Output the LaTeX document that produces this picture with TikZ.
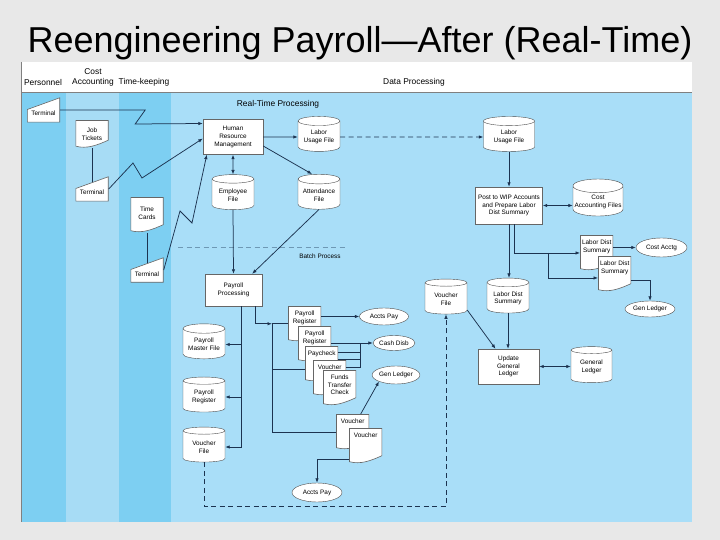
\documentclass[tikz,border=0pt]{standalone}
\usepackage{fontspec}
\setmainfont{Liberation Sans}
\usetikzlibrary{shapes.geometric,arrows.meta,positioning}
\definecolor{panelgray}{HTML}{E8E8E8}
\definecolor{lanedark}{HTML}{7DCFF2}
\definecolor{lanepale}{HTML}{A7DCF5}
\definecolor{lanedata}{HTML}{A9DEF8}
\definecolor{flowcol}{HTML}{1C3350}
\definecolor{sepcol}{HTML}{6E98B4}
\tikzset{
	lanehead/.style={font=\fontsize{8.4}{9.6}\selectfont, align=center, inner sep=0pt},
	procbox/.style={rectangle, draw=black!60, fill=white, align=center,
		font=\fontsize{6.4}{7.6}\selectfont, inner sep=1pt},
	diskbox/.style={cylinder, shape border rotate=90, aspect=0.28, draw=black!70, fill=white,
		align=center, font=\fontsize{6.4}{7.6}\selectfont, inner sep=1pt,
		minimum width=42pt, minimum height=35pt},
	docbox/.style={rectangle, align=center, font=\fontsize{6.4}{7.6}\selectfont,
		inner xsep=1.5pt, inner ysep=1.5pt, minimum width=33pt,
		text height=8pt, text depth=24.5pt, anchor=north west,
		path picture={\draw[draw=black!60, fill=white, line width=0.6pt]
			([shift={(0.3pt,-0.3pt)}]path picture bounding box.north west)
			-- ([shift={(-0.3pt,-0.3pt)}]path picture bounding box.north east)
			-- ([shift={(-0.3pt,8pt)}]path picture bounding box.south east)
			.. controls +(-11pt,-5pt) and +(11pt,-3pt) .. ([shift={(0.3pt,2pt)}]path picture bounding box.south west)
			-- cycle;}},
	docbox2/.style={docbox, text height=15.6pt, text depth=16.9pt},
	docbox3/.style={docbox, text height=23.2pt, text depth=9.3pt},
	termbox/.style={rectangle, font=\fontsize{6.4}{7.6}\selectfont, inner sep=1pt,
		minimum width=33pt, minimum height=25pt, text height=12pt, text depth=0pt,
		path picture={\draw[draw=black!60, fill=white, line width=0.6pt]
			([shift={(0.3pt,0.3pt)}]path picture bounding box.south west)
			-- ([shift={(-0.3pt,0.3pt)}]path picture bounding box.south east)
			-- ([shift={(-0.3pt,-0.3pt)}]path picture bounding box.north east)
			-- ([shift={(0.3pt,-12pt)}]path picture bounding box.north west) -- cycle;}},
	ovalbox/.style={ellipse, draw=black!70, fill=white, font=\fontsize{6.4}{7.6}\selectfont,
		inner sep=0pt, minimum width=48pt, minimum height=17pt},
	plainline/.style={draw=flowcol, line width=0.75pt},
	flowarr/.style={plainline, -{Latex[length=4.5pt,width=3.5pt]}},
	dualarr/.style={plainline, {Latex[length=4.5pt,width=3.5pt]}-{Latex[length=4.5pt,width=3.5pt]}}
}
\begin{document}
\begin{tikzpicture}[x=1pt,y=-1pt]
	\useasboundingbox (0,0) rectangle (720,540);
	\fill[panelgray] (0,0) rectangle (720,540);
	% lanes
	\fill[white] (21,62) rectangle (692,92);
	\fill[lanedark] (21,92) rectangle (66,522);
	\fill[lanepale] (66,92) rectangle (119,522);
	\fill[lanedark] (119,92) rectangle (171,522);
	\fill[lanedata] (171,92) rectangle (692,522);
	\draw[black!50, line width=0.6pt] (21,92) -- (692,92);
	\draw[black!50, line width=0.6pt] (21,62) -- (21,522);
	\node[font=\fontsize{36}{40}\selectfont, anchor=base] (title) at (360,53) {Reengineering Payroll\textemdash After (Real-Time)};
	\node[lanehead] (hPers) at (43,82) {Personnel};
	\node[lanehead] (hCost) at (93,77.5) {Cost\\Accounting};
	\node[lanehead] (hTime) at (144,82) {Time-keeping};
	\node[lanehead] (hData) at (414,82) {Data Processing};
	\node[lanehead] (hReal) at (278,104) {Real-Time Processing};
	% batch split
	\draw[sepcol, line width=0.8pt, dash pattern=on 5pt off 3.5pt] (178,247) -- (346,247);
	\node[font=\fontsize{6.4}{7.6}\selectfont] (batch) at (320,256) {Batch Process};

	% inputs
	\node[termbox] (termPers) at (43.5,110) {Terminal};
	\node[docbox2, anchor=north, text height=18.6pt, text depth=6.4pt] (jobTix) at (92,120) {Job\\Tickets};
	\node[termbox] (termCost) at (92,189) {Terminal};
	\node[docbox2, anchor=north, text height=20.6pt, text depth=11.9pt] (timeCards) at (147,197) {Time\\Cards};
	\node[termbox] (termTime) at (147,270) {Terminal};

	% real-time processing
	\node[procbox, minimum width=60pt, minimum height=35pt] (hrm) at (233,137) {Human\\Resource\\Management};
	\node[diskbox] (laborUse) at (319,137) {Labor\\Usage File};
	\node[diskbox] (attend) at (319,195) {Attendance\\File};
	\node[diskbox] (employee) at (233,195) {Employee\\File};
	\node[procbox, minimum width=57pt, minimum height=32pt] (payProc) at (233.5,290) {Payroll\\Processing};
	\node[diskbox] (payMaster) at (204,344.5) {Payroll\\Master File};
	\node[diskbox] (payReg) at (204,397) {Payroll\\Register};
	\node[diskbox] (vouchFile) at (204,447) {Voucher\\File};

	% output documents
	\node[docbox2] (regA) at (288,306) {Payroll\\Register};
	\node[docbox2] (regB) at (298,326) {Payroll\\Register};
	\node[docbox] (paycheck) at (305,346) {Paycheck};
	\node[docbox] (voucherA) at (313,360) {Voucher};
	\node[docbox3] (funds) at (323,370) {Funds\\Transfer\\Check};
	\node[ovalbox, minimum width=49pt] (acctsPayA) at (384,316.5) {Accts Pay};
	\node[ovalbox, minimum width=42pt, minimum height=15pt] (cashDisb) at (394,343) {Cash Disb};
	\node[ovalbox, minimum width=45pt, minimum height=18pt] (genLedgerA) at (396,375) {Gen Ledger};
	\node[docbox] (voucherB) at (336,414) {Voucher};
	\node[docbox] (voucherC) at (349,428) {Voucher};
	\node[ovalbox, minimum width=50pt, minimum height=19pt] (acctsPayB) at (317,492.5) {Accts Pay};

	% data processing, right
	\node[diskbox, minimum width=51pt] (laborUseB) at (509,137) {Labor\\Usage File};
	\node[procbox, minimum width=67pt, minimum height=37pt] (postWip) at (509,205.5) {Post to WIP Accounts\\and Prepare Labor\\Dist Summary};
	\node[diskbox, minimum width=50pt, minimum height=37pt] (costFiles) at (598,202) {Cost\\Accounting Files};
	\node[docbox2] (distA) at (580,235) {Labor Dist\\Summary};
	\node[docbox2] (distB) at (598,256) {Labor Dist\\Summary};
	\node[ovalbox, minimum width=51pt, minimum height=19pt] (costAcctg) at (661.5,247.5) {Cost Acctg};
	\node[ovalbox, minimum width=50pt, minimum height=16pt] (genLedgerB) at (650,309) {Gen Ledger};
	\node[diskbox] (vouchFileB) at (446,299) {Voucher\\File};
	\node[diskbox] (distFile) at (508,298.5) {Labor Dist\\Summary};
	\node[procbox, minimum width=61pt, minimum height=35pt] (updGL) at (508.5,366.5) {Update\\General\\Ledger};
	\node[diskbox, minimum width=41pt, minimum height=36pt] (genLedgerC) at (591.5,367) {General\\Ledger};

	% real-time links
	\draw[flowarr] (termPers.east) -- ++(85,0) -- ++(-10,14) -- ([yshift=13.5pt]hrm.west);
	\draw[flowarr] (termCost.east) -- (133,163) -- (142,178) -- ([yshift=-1.5pt]hrm.west);
	\draw[flowarr] (termTime.east) -- (180,211) -- (192,223) -- ([xshift=4pt]hrm.south west);
	\draw[plainline] (jobTix.south) -- ([yshift=-6pt]termCost.north);
	\draw[plainline] (timeCards.south) -- ([yshift=-6pt]termTime.north);
	\draw[flowarr] (hrm.east) -- (laborUse.west);
	\draw[flowarr, dash pattern=on 5pt off 3.5pt] (laborUse.east) -- (laborUseB.west);
	\draw[flowarr] ([yshift=-9pt]hrm.east) -- ([xshift=-7pt]attend.north);
	\draw[dualarr] (hrm.south) -- (employee.north);
	\draw[flowarr] (employee.south) -- (payProc.north);
	\draw[flowarr] (attend.south) -- ([xshift=-10pt]payProc.north east);

	% batch links
	\draw[flowarr] ([xshift=7.5pt]payProc.south) |- (payMaster.east);
	\draw[flowarr] ([xshift=7.5pt]payProc.south) |- (payReg.east);
	\draw[flowarr] ([xshift=7.5pt]payProc.south) |- (vouchFile.east);
	\coordinate (split) at (272,323.75);
	\coordinate (tap) at (272,369);
	\draw[flowarr] ([xshift=22pt]payProc.south) |- (split);
	\draw[plainline] (split) -- (regA.west |- split);
	\draw[plainline] (split) |- (voucherB.west);
	\draw[plainline] (tap) -- (paycheck.west |- tap);
	\draw[flowarr] (regA.east |- acctsPayA.west) -- (acctsPayA.west);
	\draw[flowarr] (regB.east |- cashDisb.west) -- (cashDisb.west);
	\coordinate (merge) at (360,343);
	\draw[plainline] ([yshift=12pt]paycheck.east) -| (merge);
	\draw[plainline] ([yshift=5pt]paycheck.east) -| (merge);
	\draw[plainline] ([yshift=11pt]voucherA.east) -| (merge);
	\draw[flowarr] ([xshift=8pt]voucherB.north) -- (genLedgerA.south west);
	\draw[flowarr] ([yshift=-13pt]voucherC.west) -| (acctsPayB.north);
	\draw[flowarr, dash pattern=on 5pt off 3.5pt] (vouchFile.south) -- ++(0,44) -| (vouchFileB.south);

	% labor distribution
	\draw[flowarr] (laborUseB.south) -- (postWip.north);
	\draw[dualarr] (postWip.east) -- (postWip.east -| costFiles.west);
	\draw[flowarr] (postWip.south) -- (postWip.south |- distFile.north);
	\coordinate (forkTop) at (548,0);
	\draw[flowarr] ([xshift=5pt]postWip.south) |- (distA.west);
	\draw[flowarr] (distA.west -| forkTop) |- ([yshift=-4pt]distB.west);
	\draw[flowarr] (distA.east |- costAcctg.west) -- (costAcctg.west);
	\draw[flowarr] ([yshift=-6pt]distB.east) -| (genLedgerB.north);
	\draw[flowarr] ([yshift=-11pt]vouchFileB.east) -- ([xshift=-13pt]updGL.north);
	\draw[flowarr] (distFile.south) -- (distFile.south |- updGL.north);
	\draw[dualarr] (updGL.east) -- (updGL.east -| genLedgerC.west);
\end{tikzpicture}
\end{document}
